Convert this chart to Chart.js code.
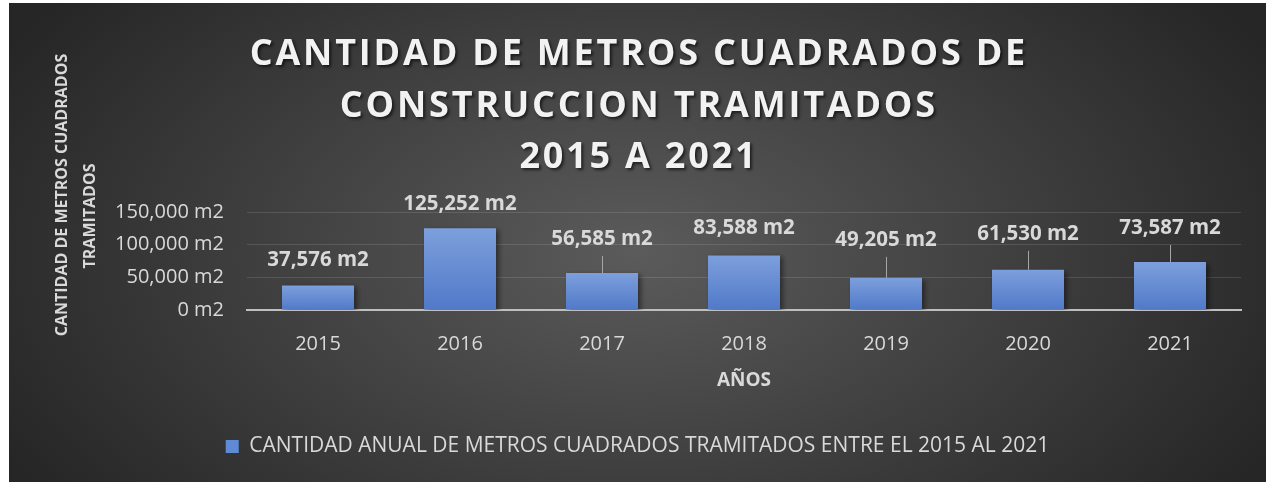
<!DOCTYPE html>
<html lang="es">
<head>
  <meta charset="UTF-8" />
  <title>Metros cuadrados tramitados</title>
  <script src="https://cdn.jsdelivr.net/npm/chart.js"></script>
  <style>
    body {
      margin: 0;
      background: #ffffff;
      overflow: hidden;
    }
    .wrap {
      position: absolute;
      left: 9px;
      top: 3px;
      width: 1257px;
      height: 479px;
    }
  </style>
</head>
<body>
  <div class="wrap"><canvas id="chart"></canvas></div>

  <script>
    const years = ['2015', '2016', '2017', '2018', '2019', '2020', '2021'];
    const metros = [37576, 125252, 56585, 83588, 49205, 61530, 73587];
    const yTicks = [0, 50000, 100000, 150000];
    const seriesName = 'CANTIDAD ANUAL DE METROS CUADRADOS TRAMITADOS ENTRE EL 2015 AL 2021';
    const titleLines = ['CANTIDAD DE METROS CUADRADOS DE', 'CONSTRUCCION TRAMITADOS', '2015 A 2021'];
    const yTitleLines = ['CANTIDAD DE METROS CUADRADOS', 'TRAMITADOS'];
    const xTitle = 'AÑOS';

    // how far each value label sits above its bar, and which ones have a leader line
    const labelLift = [25, 24, 34, 27, 38, 36, 34];
    const leader = [false, false, true, false, true, true, true];

    const fmt = v => v.toLocaleString('en-US') + ' m2';
    const textColor = '#d9d9d9';

    const background = {
      id: 'background',
      beforeDraw(chart) {
        const { ctx, width, height } = chart;
        const cx = width / 2, cy = height * 0.52, k = 0.58;
        ctx.save();
        ctx.translate(cx, cy);
        ctx.scale(1, k);
        const g = ctx.createRadialGradient(0, 0, 0, 0, 0, 720);
        g.addColorStop(0, '#5b5b5b');
        g.addColorStop(1, '#262626');
        ctx.fillStyle = g;
        ctx.fillRect(-cx, -height / k, width, 2 * height / k);
        ctx.restore();
      }
    };

    const titles = {
      id: 'titles',
      afterDraw(chart) {
        const ctx = chart.ctx;
        ctx.save();
        ctx.textAlign = 'center';
        ctx.textBaseline = 'middle';
        ctx.shadowColor = 'rgba(0,0,0,0.6)';
        ctx.shadowOffsetX = 2;
        ctx.shadowOffsetY = 2;
        ctx.shadowBlur = 3;
        ctx.fillStyle = '#f2f2f2';
        ctx.font = 'bold 36px "Open Sans"';
        ctx.letterSpacing = '2.8px';
        const ys = [52, 104, 155];
        titleLines.forEach((t, i) => ctx.fillText(t, chart.width / 2 + 1.4, ys[i]));
        ctx.restore();

        // axis title of the value axis, two rotated lines
        ctx.save();
        ctx.textAlign = 'center';
        ctx.textBaseline = 'middle';
        ctx.fillStyle = textColor;
        ctx.font = 'bold 16px "Open Sans"';
        ctx.translate(53, 192);
        ctx.rotate(-Math.PI / 2);
        ctx.fillText(yTitleLines[0], 0, 0);
        ctx.fillText(yTitleLines[1], -21, 28);
        ctx.restore();
      }
    };

    const barLabels = {
      id: 'barLabels',
      beforeDatasetsDraw(chart) {
        const ctx = chart.ctx;
        ctx.save();
        ctx.shadowColor = 'rgba(0,0,0,0.45)';
        ctx.shadowOffsetX = 3;
        ctx.shadowOffsetY = 2;
        ctx.shadowBlur = 5;
      },
      afterDatasetsDraw(chart) {
        const ctx = chart.ctx;
        ctx.restore();
        ctx.save();
        ctx.font = 'bold 20.5px "Open Sans"';
        ctx.textAlign = 'center';
        ctx.textBaseline = 'middle';
        ctx.fillStyle = textColor;
        ctx.strokeStyle = '#a6a6a6';
        ctx.lineWidth = 1;
        chart.getDatasetMeta(0).data.forEach((bar, i) => {
          const y = bar.y - labelLift[i];
          ctx.fillText(fmt(metros[i]), bar.x, y);
          if (leader[i]) {
            ctx.beginPath();
            ctx.moveTo(Math.round(bar.x) + 0.5, y + 17);
            ctx.lineTo(Math.round(bar.x) + 0.5, bar.y);
            ctx.stroke();
          }
        });
        ctx.restore();
      }
    };

    const ctx = document.getElementById('chart').getContext('2d');
    const chart = new Chart(ctx, {
      type: 'bar',
      data: {
        labels: years,
        datasets: [{
          label: seriesName,
          data: metros,
          backgroundColor(c) {
            const { chart } = c;
            if (!chart.chartArea || c.raw === undefined) return '#5f8ad6';
            const y = chart.scales.y;
            const g = chart.ctx.createLinearGradient(0, y.getPixelForValue(c.raw), 0, y.getPixelForValue(0));
            g.addColorStop(0, '#7d9fdc');
            g.addColorStop(1, '#5079c8');
            return g;
          },
          borderWidth: 0,
          barPercentage: 0.507,
          categoryPercentage: 1
        }]
      },
      options: {
        responsive: true,
        maintainAspectRatio: false,
        animation: false,
        layout: { padding: { left: 0, right: 0, top: 209, bottom: 15 } },
        plugins: {
          title: { display: false },
          tooltip: { enabled: false },
          legend: {
            position: 'bottom',
            labels: {
              color: textColor,
              font: { family: 'Open Sans', size: 21 },
              boxWidth: 13,
              boxHeight: 13,
              padding: 10,
              generateLabels(chart) {
                const items = Chart.defaults.plugins.legend.labels.generateLabels(chart);
                items.forEach(it => { it.fillStyle = '#5f8ad6'; it.strokeStyle = '#5f8ad6'; it.lineWidth = 0; });
                return items;
              }
            }
          }
        },
        scales: {
          x: {
            grid: { display: false },
            border: { display: true, color: '#bfbfbf', width: 2 },
            ticks: { color: textColor, font: { family: 'Open Sans', size: 20 }, padding: 14 },
            title: {
              display: true,
              text: xTitle,
              color: textColor,
              font: { family: 'Open Sans', size: 19, weight: 'bold' },
              padding: { top: 0, bottom: 34 }
            },
            afterFit(s) { s.height = 116; }
          },
          y: {
            min: 0,
            max: 150000,
            afterBuildTicks(s) { s.ticks = yTicks.map(v => ({ value: v })); },
            grid: { color: 'rgba(255,255,255,0.12)', lineWidth: 1, drawTicks: false },
            border: { display: false },
            ticks: { color: textColor, font: { family: 'Open Sans', size: 20 }, padding: 23, callback: v => fmt(v) },
            afterFit(s) { s.width = 238; }
          },
          // empty strip on the right so the plot ends where the original does
          spacer: {
            position: 'right',
            grid: { display: false },
            border: { display: false },
            ticks: { display: false },
            afterFit(s) { s.width = 25; }
          }
        }
      },
      plugins: [background, titles, barLabels]
    });
  </script>
</body>
</html>
